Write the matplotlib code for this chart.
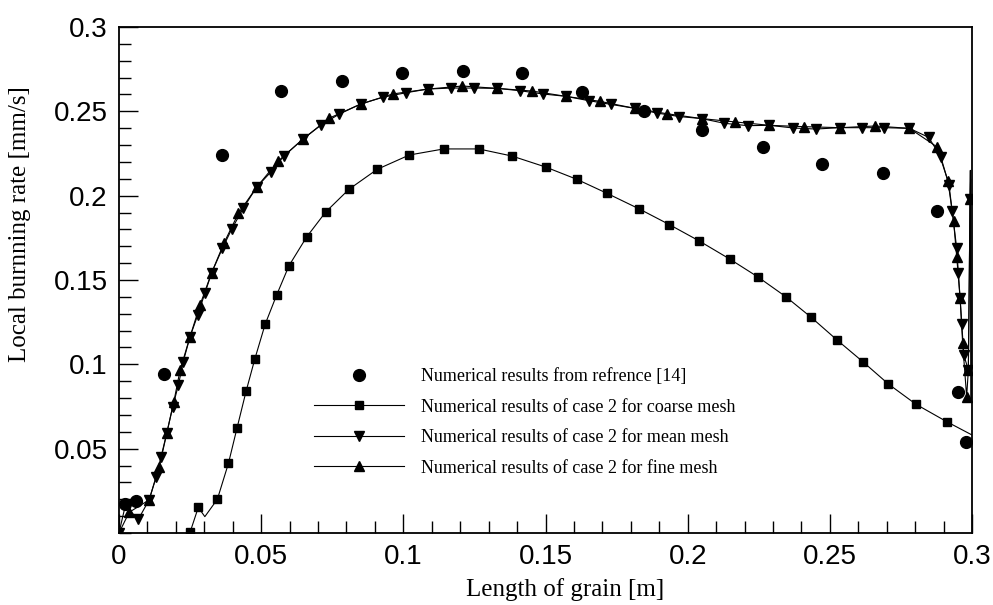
import matplotlib
matplotlib.use("Agg")
import matplotlib.pyplot as plt
from matplotlib.ticker import MultipleLocator, FixedFormatter, FixedLocator

# Reference data (circles)
ref_x = [0.0021, 0.0060, 0.0159, 0.0362, 0.0570, 0.0783, 0.0997, 0.1209, 0.1419,
         0.1627, 0.1845, 0.2049, 0.2266, 0.2473, 0.2687, 0.2876, 0.2952, 0.2979]
ref_y = [0.0172, 0.0190, 0.0943, 0.2243, 0.2620, 0.2678, 0.2727, 0.2741, 0.2725,
         0.2617, 0.2504, 0.2389, 0.2290, 0.2188, 0.2133, 0.1911, 0.0838, 0.0540]

# Coarse mesh curve (squares); some vertices carry no marker
coarse_x = [0.0250, 0.0279, 0.0302, 0.0346, 0.0385, 0.0415, 0.0447, 0.0478, 0.0514,
            0.0555, 0.0598, 0.0660, 0.0727, 0.0809, 0.0908, 0.1021, 0.1142, 0.1265,
            0.1382, 0.1500, 0.1610, 0.1716, 0.1830, 0.1936, 0.2041, 0.2148, 0.2247,
            0.2345, 0.2434, 0.2524, 0.2617, 0.2706, 0.2803, 0.2911, 0.3000]
coarse_y = [0.0004, 0.0152, 0.0097, 0.0200, 0.0413, 0.0621, 0.0840, 0.1033, 0.1237,
            0.1413, 0.1585, 0.1755, 0.1903, 0.2038, 0.2156, 0.2241, 0.2277, 0.2277,
            0.2235, 0.2170, 0.2097, 0.2014, 0.1921, 0.1828, 0.1731, 0.1624, 0.1518,
            0.1401, 0.1279, 0.1146, 0.1014, 0.0883, 0.0763, 0.0660, 0.0581]
coarse_unmarked = [2, 34]

# Mean mesh curve (down triangles)
mean_x = [0.0000, 0.0022, 0.0068, 0.0106, 0.0130, 0.0148, 0.0168, 0.0189, 0.0209,
          0.0226, 0.0250, 0.0277, 0.0302, 0.0326, 0.0364, 0.0396, 0.0437, 0.0484,
          0.0534, 0.0580, 0.0646, 0.0711, 0.0775, 0.0850, 0.0927, 0.1009, 0.1086,
          0.1168, 0.1249, 0.1331, 0.1411, 0.1490, 0.1571, 0.1653, 0.1730, 0.1813,
          0.1891, 0.1971, 0.2049, 0.2129, 0.2211, 0.2287, 0.2372, 0.2450, 0.2536,
          0.2612, 0.2692, 0.2780, 0.2847, 0.2890, 0.2919, 0.2930, 0.2946, 0.2952,
          0.2958, 0.2964, 0.2971, 0.2987, 0.2993, 0.2994, 0.2996]
mean_y = [0.0000, 0.0160, 0.0081, 0.0196, 0.0330, 0.0452, 0.0591, 0.0749, 0.0877,
          0.1016, 0.1164, 0.1292, 0.1421, 0.1543, 0.1688, 0.1800, 0.1925, 0.2050,
          0.2140, 0.2235, 0.2334, 0.2419, 0.2484, 0.2543, 0.2583, 0.2610, 0.2632,
          0.2638, 0.2638, 0.2636, 0.2622, 0.2603, 0.2589, 0.2563, 0.2541, 0.2518,
          0.2490, 0.2469, 0.2457, 0.2429, 0.2415, 0.2417, 0.2401, 0.2395, 0.2403,
          0.2403, 0.2403, 0.2399, 0.2346, 0.2231, 0.2063, 0.1911, 0.1688, 0.1540,
          0.1391, 0.1237, 0.1055, 0.0966, 0.1978, 0.2150, 0.0790]
mean_unmarked = [1, 59, 60]

# Fine mesh curve (up triangles)
fine_x = [0.0000, 0.0036, 0.0106, 0.0142, 0.0168, 0.0193, 0.0215, 0.0250, 0.0285,
          0.0326, 0.0369, 0.0420, 0.0484, 0.0560, 0.0646, 0.0739, 0.0850, 0.0963,
          0.1086, 0.1208, 0.1331, 0.1454, 0.1571, 0.1692, 0.1813, 0.1926, 0.2049,
          0.2167, 0.2287, 0.2410, 0.2536, 0.2659, 0.2780, 0.2876, 0.2915, 0.2935,
          0.2946, 0.2958, 0.2967, 0.2981, 0.2987, 0.2993, 0.2995, 0.2997]
fine_y = [0.0000, 0.0123, 0.0196, 0.0393, 0.0591, 0.0778, 0.0966, 0.1164, 0.1352,
          0.1543, 0.1718, 0.1895, 0.2050, 0.2205, 0.2334, 0.2459, 0.2543, 0.2603,
          0.2632, 0.2650, 0.2636, 0.2620, 0.2589, 0.2559, 0.2518, 0.2486, 0.2457,
          0.2437, 0.2417, 0.2409, 0.2403, 0.2413, 0.2399, 0.2290, 0.2089, 0.1850,
          0.1639, 0.1391, 0.1124, 0.0808, 0.0966, 0.1978, 0.2100, 0.0800]
fine_unmarked = [42, 43]

x_ticks = [0, 0.05, 0.1, 0.15, 0.2, 0.25, 0.3]
x_ticklabels = ["0", "0.05", "0.1", "0.15", "0.2", "0.25", "0.3"]
y_ticks = [0.05, 0.1, 0.15, 0.2, 0.25, 0.3]
y_ticklabels = ["0.05", "0.1", "0.15", "0.2", "0.25", "0.3"]

labels = ["Numerical results from refrence [14]",
          "Numerical results of case 2 for coarse mesh",
          "Numerical results of case 2 for mean mesh",
          "Numerical results of case 2 for fine mesh"]


def marked(n, skip):
    return [i for i in range(n) if i not in skip]


fig = plt.figure(figsize=(9.93, 6.05), dpi=100)
ax = fig.add_axes([0.1198, 0.1190, 0.8591, 0.8364])

ax.plot(ref_x, ref_y, linestyle="none", marker="o", color="black",
        markersize=8.5, label=labels[0], zorder=5)
ax.plot(coarse_x, coarse_y, color="black", linewidth=0.8, marker="s",
        markersize=5.5, markevery=marked(len(coarse_x), coarse_unmarked),
        label=labels[1])
ax.plot(mean_x, mean_y, color="black", linewidth=0.8, marker="v",
        markersize=6.5, markevery=marked(len(mean_x), mean_unmarked),
        label=labels[2])
ax.plot(fine_x, fine_y, color="black", linewidth=0.8, marker="^",
        markersize=6.5, markevery=marked(len(fine_x), fine_unmarked),
        label=labels[3])

ax.set_xlim(0, 0.3)
ax.set_ylim(0, 0.3)

ax.xaxis.set_major_locator(FixedLocator(x_ticks))
ax.xaxis.set_major_formatter(FixedFormatter(x_ticklabels))
ax.yaxis.set_major_locator(FixedLocator(y_ticks))
ax.yaxis.set_major_formatter(FixedFormatter(y_ticklabels))
ax.xaxis.set_minor_locator(MultipleLocator(0.01))
ax.yaxis.set_minor_locator(MultipleLocator(0.01))

ax.tick_params(which="both", direction="in", top=False, right=False,
               width=1.0, color="black")
ax.tick_params(which="major", length=14, pad=8, labelsize=20)
ax.tick_params(which="minor", length=8.5)
for lab in ax.get_xticklabels() + ax.get_yticklabels():
    lab.set_fontfamily("Liberation Sans")

for sp in ax.spines.values():
    sp.set_linewidth(1.3)

serif = "Liberation Serif"
ax.set_xlabel("Length of grain [m]", fontfamily=serif, fontsize=18)
ax.set_ylabel("Local burnning rate [mm/s]", fontfamily=serif, fontsize=18)
ax.xaxis.set_label_coords(0.523, -0.088)
ax.yaxis.set_label_coords(-0.103, 0.610)

leg = ax.legend(loc="upper left", bbox_to_anchor=(314 / 993, 1 - 368 / 605),
                bbox_transform=fig.transFigure, frameon=False,
                prop={"family": serif, "size": 13},
                handlelength=5.0, handletextpad=0.95, labelspacing=0.75,
                borderpad=0, borderaxespad=0)

fig.savefig("out.png", dpi=100)
